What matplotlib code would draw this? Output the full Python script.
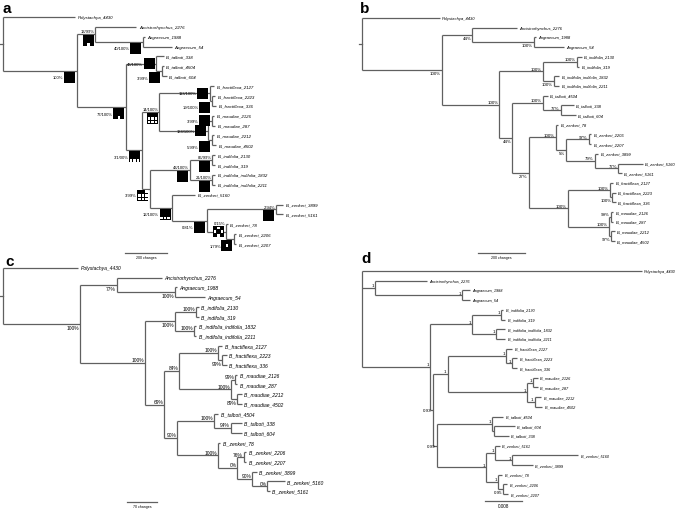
import matplotlib
matplotlib.use("Agg")
import matplotlib.pyplot as plt
from matplotlib.patches import Rectangle

# ---------------- tree data ----------------
# newick strings, branch lengths in each panel's own units
# internal node label = support|placement[|box pattern]
A_TREE = ("(Polystachya_4430:345,((Ancistrorhynchus_2276:195,(Angraecum_1988:10,Angraecum_54:140)40/100%|bl|full:225)"
          "13/99%|ba|dot:90,((B._talboti_338:35,(B._talboti_4504:10,B._talboti_604:25)3/99%|bl|full:25)46/100%|cl|full:145,"
          "(((B._fractiflexa_2127:20,(B._fractiflexa_2223:15,B._fractiflexa_336:20)19/100%|bl|full:10)113/100%|cl|full:240,"
          "((B._maudiae_2126:10,B._maudiae_287:15)3/99%|cl|full:20,(B._maudiae_2212:10,B._maudiae_4502:20)5/99%|bl|full:20)"
          "134/100%|cl|full:230)14/100%|ba|grid2:85,(((B._indifolia_2130:15,B._indifolia_319:15)86/99%|ba|full:105,"
          "(B._indifolia_indifolia_1832:15,B._indifolia_indifolia_2211:15)21/100%|ba|full:105)43/100%|ba|full:190,"
          "(B._zenkeri_5160:110,((B._zenkeri_3899:35,B._zenkeri_5161:35)2/94%|ba|full:330,(B._zenkeri_78:10,"
          "(B._zenkeri_2206:10,B._zenkeri_2207:10)1/79%|bl|center:40)0/15%|ca|check:90)0/81%|bl|full:165)"
          "12/100%|bl|grid1:105)3/99%|bl|grid3:40)3/1/00%|bl|grid1:75)77/100%|bl|dot:235)100%|bl|full:350)")

B_TREE = ("(Polystachya_4430:330,((Ancistrorhynchus_2276:190,(Angraecum_1988:10,Angraecum_54:130)100%|b:260)44%|b:130,"
          "(((B._indifolia_2130:20,B._indifolia_319:10)100%|a:145,(B._indifolia_indifolia_1832:25,"
          "B._indifolia_indifolia_2211:25)100%|b:45)100%|a:185,((B._talboti_4504:20,(B._talboti_338:55,"
          "B._talboti_604:65)77%|a:75)100%|a:130,((B._zenkeri_78:10,((B._zenkeri_2206:10,B._zenkeri_2207:10)97%|a:95,"
          "(B._zenkeri_3899:15,(B._zenkeri_5160:105,B._zenkeri_5161:15)77%|a:100)79%|a:120)5%|b:45)100%|a:115,"
          "((B._fractiflexa_2127:15,(B._fractiflexa_2223:15,B._fractiflexa_336:15)100%|b:10)100%|a:180,"
          "((B._maudiae_2126:10,B._maudiae_287:10)99%|a:10,(B._maudiae_2212:15,B._maudiae_4502:15)97%|b:10)100%|a:175)"
          "100%|a:165)27%|b:70)44%|b:55)100%|a:245)100%|b:340)")

C_TREE = ("(Polystachya_4430:175,((Ancistrorhynchus_2276:105,(Angraecum_1988:5,Angraecum_54:70)100%|b:135)77%|b:85,"
          "(((B._indifolia_2130:5,B._indifolia_319:5)100%|a:50,(B._indifolia_indifolia_1832:5,"
          "B._indifolia_indifolia_2211:5)100%|a:45)100%|b:70,(((B._fractiflexa_2127:10,(B._fractiflexa_2223:10,"
          "B._fractiflexa_336:10)99%|b:10)100%|a:90,((B._maudiae_2126:5,B._maudiae_287:5)99%|a:10,(B._maudiae_2212:10,"
          "B._maudiae_4502:10)89%|b:15)100%|a:120)84%|a:35,((B._talboti_4504:10,(B._talboti_338:25,"
          "B._talboti_604:25)94%|a:40)100%|a:85,(B._zenkeri_78:5,((B._zenkeri_2206:5,B._zenkeri_2207:5)76%|a:15,"
          "(B._zenkeri_3899:10,(B._zenkeri_5160:40,B._zenkeri_5161:5)0%|a:35)90%|a:35)0%|a:45)100%|a:95)90%|a:30)"
          "69%|a:45)100%|a:150)100%|b:180)")

D_TREE = ("(Polystachya_4430:0.0605,(Ancistrorhynchus_2276:0.0112,(Angraecum_1988:0.0017,Angraecum_54:0.0017)1|a:0.0188)"
          "1|a:0.0028,(((B._indifolia_2130:0.0004,B._indifolia_319:0.0009)1|a:0.0063,(B._indifolia_indifolia_1832:0.0019,"
          "B._indifolia_indifolia_2211:0.0019)1|a:0.0052)1|a:0.0091,(((B._fractiflexa_2127:0.0013,(B._fractiflexa_2223:0.0011,"
          "B._fractiflexa_336:0.0011)1|a:0.0013)1|a:0.0127,((B._maudiae_2126:0.0011,B._maudiae_287:0.0011)1|a:0.0013,"
          "(B._maudiae_2212:0.0015,B._maudiae_4502:0.0017)1|a:0.0017)1|a:0.0171)1|a:0.0032,((B._talboti_4504:0.0024,"
          "(B._talboti_604:0.0045,B._talboti_338:0.0032)|a:0.0004)1|a:0.0119,((B._zenkeri_5161:0.0011,"
          "(B._zenkeri_5160:0.0143,B._zenkeri_3899:0.0045)1|a:0.0037)1|a:0.0019,(B._zenkeri_78:0.0009,"
          "(B._zenkeri_2206:0.0009,B._zenkeri_2207:0.0011)0.95|b:0.0011)1|a:0.0026)1|a:0.0106)0.99|m:0.0009)"
          "0.93|m:0.0006)1|a:0.0147)")

# scale bars: length, caption
A_SCALE = (200, "200 changes")
B_SCALE = (200, "200 changes")
C_SCALE = (70, "70 changes")
D_SCALE = (0.008, "0.008")

# character state boxes of panel a (3x3 cells, 0 = white cell)
PATTERNS = {"full": "111111111", "dot": "111111101", "grid1": "111111000",
            "grid2": "111000000", "grid3": "110000000", "check": "101010101",
            "center": "111101111"}

W, H = 685, 510
LINE = "#606060"
FONT = "Liberation Sans"

# panel layout in pixels: box, root x, px per unit, first leaf y, leaf step
PANELS = [
    dict(key="a", tree=A_TREE, scale=A_SCALE, box=(0, 0, 340, 255), root=3, ppu=0.21, y0=18, dy=9.87,
         leaf_fs=3.2, sup_fs=3.0, stem=3, bar=(125, 254), letter=(3, 13)),
    dict(key="b", tree=B_TREE, scale=B_SCALE, box=(340, 0, 685, 255), root=362, ppu=0.235, y0=19, dy=9.7,
         leaf_fs=3.0, sup_fs=3.2, stem=3, bar=(478, 254), letter=(360, 13)),
    dict(key="c", tree=C_TREE, scale=C_SCALE, box=(0, 255, 340, 510), root=3, ppu=0.43, y0=269, dy=9.7,
         leaf_fs=3.6, sup_fs=3.5, stem=3, bar=(127, 503), letter=(5, 266)),
    dict(key="d", tree=D_TREE, scale=D_SCALE, box=(340, 255, 685, 510), root=362, ppu=4625, y0=272, dy=9.7,
         leaf_fs=2.8, sup_fs=3.2, stem=0, bar=(485, 502), letter=(361, 263)),
]


def parse_newick(s):
    pos = 0

    def read():
        nonlocal pos
        kids = []
        if s[pos] == "(":
            pos += 1
            kids.append(read())
            while s[pos] == ",":
                pos += 1
                kids.append(read())
            pos += 1
        start = pos
        while pos < len(s) and s[pos] not in ",():;":
            pos += 1
        name = s[start:pos]
        length = 0.0
        if pos < len(s) and s[pos] == ":":
            pos += 1
            start = pos
            while pos < len(s) and s[pos] not in ",();":
                pos += 1
            length = float(s[start:pos])
        return {"name": name, "len": length, "kids": kids}

    return read()


def layout(node, x0=0.0, count=None):
    if count is None:
        count = [0]
    node["x"] = x0 + node["len"]
    for k in node["kids"]:
        layout(k, node["x"], count)
    if node["kids"]:
        node["y"] = (node["kids"][0]["y"] + node["kids"][-1]["y"]) / 2
    else:
        node["y"] = count[0]
        count[0] += 1
    return node


def walk(node):
    yield node
    for k in node["kids"]:
        yield from walk(k)


fig = plt.figure(figsize=(W / 100, H / 100), dpi=100)
ov = fig.add_axes([0, 0, 1, 1])
ov.set_xlim(0, W)
ov.set_ylim(H, 0)
ov.axis("off")
ov.set_zorder(10)


def to_px(ax, x, y):
    return ov.transData.inverted().transform(ax.transData.transform((x, y)))


for p in PANELS:
    l, t, r, b = p["box"]
    ax = fig.add_axes([l / W, 1 - b / H, (r - l) / W, (b - t) / H])
    ax.set_xlim((l - p["root"]) / p["ppu"], (r - p["root"]) / p["ppu"])
    ax.set_ylim((b - p["y0"]) / p["dy"], (t - p["y0"]) / p["dy"])
    ax.axis("off")

    tree = layout(parse_newick(p["tree"]))

    # branches
    for n in walk(tree):
        if not n["kids"]:
            continue
        ax.plot([n["x"], n["x"]], [n["kids"][0]["y"], n["kids"][-1]["y"]], color=LINE, lw=0.9,
                solid_capstyle="butt")
        for k in n["kids"]:
            ax.plot([n["x"], k["x"]], [k["y"], k["y"]], color=LINE, lw=0.9, solid_capstyle="butt")
    if p["stem"]:
        ax.plot([-p["stem"] / p["ppu"], 0], [tree["y"], tree["y"]], color=LINE, lw=0.9)

    # labels
    for n in walk(tree):
        nx, ny = to_px(ax, n["x"], n["y"])
        if not n["kids"]:
            ov.text(nx + 2.5, ny, n["name"], fontsize=p["leaf_fs"], style="italic", family=FONT,
                    ha="left", va="center")
            continue
        parts = n["name"].split("|")
        if not parts[0]:
            continue
        text, mode = parts[0], parts[1]
        if p["key"] == "a":
            S = 11
            left = nx - 1.5 - S
            top = ny + 1 if mode[0] == "b" else ny - S / 2
            ov.add_patch(Rectangle((left, top), S, S, fc="black", ec="none"))
            for i, c in enumerate(PATTERNS[parts[2]]):
                row, col = divmod(i, 3)
                if c == "0":
                    ov.add_patch(Rectangle((left + col * S / 3 + 0.6, top + row * S / 3 + 0.6),
                                           S / 3 - 1.2, S / 3 - 1.2, fc="white", ec="none"))
            if mode[1] == "l":
                ov.text(left - 0.5, top + S / 2, text, fontsize=p["sup_fs"], family=FONT,
                        ha="right", va="center")
            else:
                ov.text(nx - 0.5, min(top, ny) - 0.8, text, fontsize=p["sup_fs"], family=FONT,
                        ha="right", va="bottom")
        else:
            va = {"a": "bottom", "b": "top", "m": "center"}[mode]
            dy = {"a": -0.6, "b": 0.8, "m": 0.5}[mode]
            ov.text(nx - 1, ny + dy, text, fontsize=p["sup_fs"], family=FONT, ha="right", va=va)

    # scale bar
    length, caption = p["scale"]
    bx, by = p["bar"]
    x0 = (bx - p["root"]) / p["ppu"]
    yb = (by - p["y0"]) / p["dy"]
    ax.plot([x0, x0 + length], [yb, yb], color=LINE, lw=0.9, clip_on=False)
    mx, my = to_px(ax, x0 + length / 2, yb)
    ov.text(mx, my + 2, caption, fontsize=2.6 if p["key"] != "d" else 3.3, family=FONT,
            ha="center", va="top")

    # panel letter
    ov.text(p["letter"][0], p["letter"][1], p["key"], fontsize=11, fontweight="bold", family=FONT,
            ha="left", va="baseline")

fig.savefig("out.png", dpi=100)
